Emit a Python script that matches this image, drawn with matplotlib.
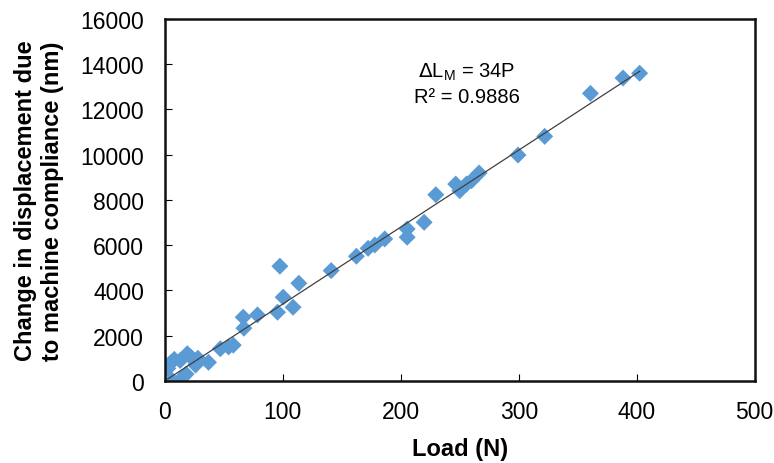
import matplotlib
matplotlib.use("Agg")
import matplotlib.pyplot as plt
import numpy as np

plt.rcParams['font.family'] = ['Liberation Sans', 'DejaVu Sans']

load_n = [2.5, 5, 8, 13, 19, 22, 26, 28, 37, 6, 15, 18,
          47, 54, 58, 66.4, 67, 78.5, 95.5, 97.5, 100.3, 108.7, 113.6,
          141, 162.4, 172.3, 178, 186.4, 205.4, 205.4, 219.8,
          229.7, 246.6, 250, 255.7, 260, 266.4,
          299.4, 322, 360.8, 388.4, 402.5]
disp_nm = [550, 800, 950, 900, 1200, 1050, 700, 1000, 820, 30, 150, 300,
           1420, 1500, 1580, 2815, 2330, 2915, 3035, 5070, 3700, 3255, 4315,
           4875, 5510, 5860, 6010, 6275, 6350, 6715, 7010,
           8230, 8700, 8410, 8700, 8850, 9190,
           9985, 10810, 12710, 13390, 13600]
slope = 34
r2 = 0.9886
x_ticks = [0, 100, 200, 300, 400, 500]
y_ticks = [0, 2000, 4000, 6000, 8000, 10000, 12000, 14000, 16000]

fig = plt.figure(figsize=(7.74, 4.64), dpi=100)
ax = fig.add_axes([0.213, 0.177, 0.762, 0.780])

ax.scatter(load_n, disp_nm, marker='D', s=75, color='#5B9BD5', edgecolors='none', zorder=2)
xl = np.array([min(load_n), max(load_n)])
ax.plot(xl, slope * xl, color='#404040', lw=0.9, zorder=3)

ax.set_xlim(0, 500)
ax.set_ylim(0, 16000)
ax.set_xticks(x_ticks)
ax.set_yticks(y_ticks)
ax.tick_params(direction='in', length=5, width=0.8, labelsize=16.5, colors='black')
ax.tick_params(axis='x', pad=14)
ax.tick_params(axis='y', pad=15)
for s in ax.spines.values():
    s.set_linewidth(1.8)
    s.set_color('#111111')

ax.set_xlabel('Load (N)', fontsize=17, fontweight='bold', labelpad=10)
ax.set_ylabel('Change in displacement due\nto machine compliance (nm)', fontsize=17,
              fontweight='bold', labelpad=12, linespacing=1.2)

ax.text(0.512, 0.822, r'$\Delta$L$_\mathregular{M}$ = 34P' + '\n' + 'R² = 0.9886',
        transform=ax.transAxes, ha='center', va='center', fontsize=14.5, linespacing=1.3)

fig.savefig('out.png', dpi=100)
